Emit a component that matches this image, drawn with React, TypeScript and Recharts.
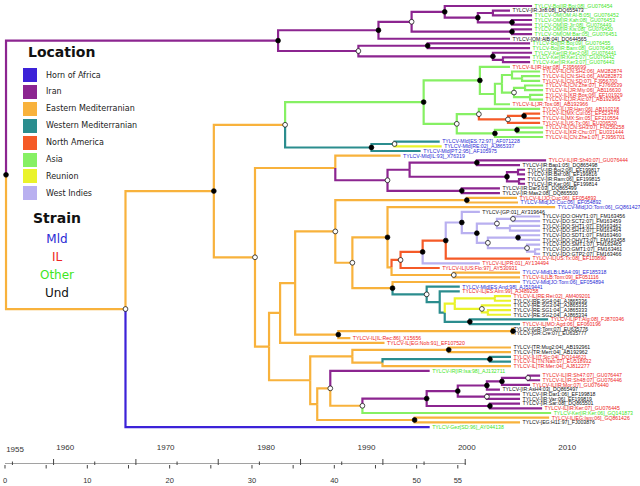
import { ComposedChart, Line, Scatter, XAxis, YAxis } from 'recharts';

// sampling locations (branch colours) and strains (label colours)
const locKeys = ['H', 'I', 'E', 'W', 'N', 'A', 'R', 'X'];
const locNames = ['Horn of Africa', 'Iran', 'Eastern Mediterranian', 'Western Mediterranian', 'North America', 'Asia', 'Reunion', 'West Indies'];
const locColors = ['#3c22d8', '#8c2590', '#f8b23c', '#2b8d8e', '#f55a27', '#86f063', '#eaf32a', '#b9b0f0'];

const strainKeys = ['M', 'L', 'O', 'U'];
const strainNames = ['Mld', 'IL', 'Other', 'Und'];
const strainColors = ['#2a2ad4', '#ee2424', '#3fe61f', '#111111'];

const yearTicks = [1955, 1960, 1970, 1980, 1990, 2000, 2010];
const scaleTicks = [0, 5, 10, 15, 20, 25, 30, 35, 40, 45, 50, 55];
const scaleLabels = [0, 10, 20, 30, 40, 50, 55];
const upTicks = [0.9, 5.9, 10.9, 15.9, 20.9, 25.9, 30.9, 35.9, 40.9, 45.9, 50.9, 55.9];
const scaleEnds = [0, 56];

const treeDomain = [1953.5, 2017.25];
const scaleDomain = [-0.607, 77.13];
const leafDomain = [-1.28, 97.9];

// internal nodes: [id, parent, year, location, support]  b = filled, w = open
const nodes: [string, string, number, string, string][] = [
  ['root', '', 1954.1, 'E', 'b'],
  ['iran', 'root', 1981.2, 'I', 'b'],
  ['i_a', 'iran', 1991.2, 'I', 'b'],
  ['i_b', 'i_a', 1994.5, 'I', 'w'],
  ['i_c', 'i_b', 1997.8, 'I', 'b'],
  ['i_e', 'i_c', 2001.1, 'I', 'b'],
  ['i_f', 'i_e', 2002.6, 'I', ''],
  ['i_g', 'i_e', 2004.5, 'I', 'b'],
  ['i_d', 'i_b', 2004.5, 'I', 'b'],
  ['i_h', 'iran', 1989.2, 'I', 'w'],
  ['i_j', 'i_h', 1996.1, 'I', 'b'],
  ['i_k', 'i_h', 2002.6, 'I', 'b'],
  ['i_m', 'i_k', 2003.6, 'I', ''],
  ['east', 'root', 1966.0, 'E', 'w'],
  ['e1', 'east', 1974.8, 'E', 'b'],
  ['e2', 'e1', 1981.9, 'E', 'w'],
  ['asia', 'e2', 1995.7, 'A', 'b'],
  ['as_u', 'asia', 2001.3, 'A', 'b'],
  ['as_u1', 'as_u', 2002.8, 'A', ''],
  ['as_u2', 'as_u1', 2003.5, 'A', ''],
  ['as_u3', 'as_u2', 2004.5, 'A', ''],
  ['as_u4', 'as_u3', 2005.5, 'A', ''],
  ['as_u5', 'as_u2', 2004.7, 'A', 'w'],
  ['as_u6', 'as_u5', 2005.8, 'A', ''],
  ['as_u7', 'as_u5', 2006.3, 'A', ''],
  ['as_l', 'asia', 1999.0, 'A', 'w'],
  ['as_l1', 'as_l', 2001.2, 'A', 'w'],
  ['na1', 'as_l1', 2004.1, 'N', 'w'],
  ['na2', 'na1', 2005.7, 'N', 'b'],
  ['as_l2', 'as_l', 2002.8, 'A', 'b'],
  ['as_l3', 'as_l2', 2005.0, 'A', 'b'],
  ['wm1', 'e2', 1990.5, 'W', 'b'],
  ['wm2', 'wm1', 1992.8, 'W', 'w'],
  ['e3', 'e1', 1978.9, 'E', 'w'],
  ['p1', 'e3', 1986.9, 'E', ''],
  ['ir2', 'p1', 1992.1, 'I', 'w'],
  ['ir2a', 'ir2', 1994.3, 'I', ''],
  ['ir2b', 'ir2a', 2001.0, 'I', 'b'],
  ['ir2c', 'ir2a', 2004.0, 'I', 'b'],
  ['ir2d', 'ir2c', 2005.1, 'I', ''],
  ['ir2e', 'ir2c', 2005.2, 'I', ''],
  ['ir2f', 'ir2', 1999.5, 'I', 'b'],
  ['e4', 'e3', 1980.3, 'E', ''],
  ['e5', 'e4', 1981.4, 'E', ''],
  ['e6', 'e5', 1982.9, 'E', ''],
  ['e7', 'e6', 1986.9, 'E', 'w'],
  ['jo1', 'e7', 2000.0, 'E', 'b'],
  ['e8', 'e7', 1988.6, 'E', 'w'],
  ['e9', 'e8', 1992.1, 'E', 'b'],
  ['e10', 'e9', 1992.5, 'E', ''],
  ['na3', 'e10', 1993.4, 'N', 'w'],
  ['na4', 'na3', 1995.6, 'N', 'b'],
  ['na5', 'na4', 1997.9, 'N', 'b'],
  ['wi0', 'na5', 1999.5, 'X', 'b'],
  ['wi1', 'wi0', 2001.0, 'X', 'b'],
  ['wi2', 'wi1', 2003.0, 'X', 'w'],
  ['wi3', 'wi2', 2004.6, 'X', 'w'],
  ['wi4', 'wi2', 2004.3, 'X', ''],
  ['wi5', 'wi1', 2002.1, 'X', 'w'],
  ['wi6', 'wi5', 2005.1, 'X', 'b'],
  ['wi7', 'wi5', 2006.0, 'X', 'w'],
  ['wi8', 'wi7', 2006.8, 'X', ''],
  ['lb', 'e10', 1998.7, 'E', 'w'],
  ['e11', 'e8', 1992.6, 'E', 'b'],
  ['wm3', 'e11', 1996.0, 'W', 'w'],
  ['wm4', 'wm3', 1997.3, 'W', ''],
  ['wm5', 'wm4', 1997.8, 'W', ''],
  ['re1', 'wm5', 1998.8, 'R', ''],
  ['re2', 're1', 2002.8, 'R', ''],
  ['re3', 're1', 2001.5, 'R', 'w'],
  ['re4', 're3', 2002.1, 'R', ''],
  ['wm6', 'wm5', 2000.3, 'W', 'b'],
  ['e12', 'e6', 1987.2, 'E', 'b'],
  ['gr', 'e12', 2004.6, 'E', 'b'],
  ['e13', 'e4', 1984.4, 'E', ''],
  ['e14', 'e13', 1988.6, 'E', ''],
  ['tr', 'e14', 1998.2, 'E', 'b'],
  ['e15', 'e14', 1991.6, 'E', ''],
  ['wm7', 'e15', 2002.3, 'W', 'b'],
  ['e16', 'e13', 1985.1, 'E', ''],
  ['e17', 'e16', 1986.4, 'E', 'w'],
  ['e18', 'e17', 1989.6, 'E', 'w'],
  ['ir3', 'e18', 1996.0, 'I', 'b'],
  ['ir3a', 'ir3', 1999.1, 'I', 'b'],
  ['ir3b', 'ir3a', 2002.0, 'I', 'b'],
  ['ir3c', 'ir3b', 2003.5, 'I', 'b'],
  ['ir3d', 'ir3c', 2006.1, 'I', 'w'],
  ['ir3e', 'ir3a', 2002.0, 'I', 'w'],
  ['ir3f', 'ir3', 2002.3, 'I', 'b'],
  ['eg', 'e16', 1994.8, 'E', 'b'],
];

// tips, top to bottom: [label, parent, year, location, strain]
type Tip = [string, string, number, string, string];

const iranTips: Tip[] = [
  ['TYLCV-Boj[IR:Boj:08]_GU076454', 'i_c', 2006.5, 'I', 'O'],
  ['TYLCV-[IR:Jir8:08]_DQ655473', 'i_f', 2004.3, 'I', 'U'],
  ['TYLCV-OM[OM:Al-B:05]_GU076452', 'i_f', 2006.5, 'I', 'O'],
  ['TYLCV-OM[IR:Kah:08]_GU076453', 'i_g', 2006.5, 'I', 'O'],
  ['TYLCV-OM[IR:Jir:08]_GU076449', 'i_g', 2006.5, 'I', 'O'],
  ['TYLCV-OM[IR:Kis:08]_GU076450', 'i_d', 2006.5, 'I', 'O'],
  ['TYLCV-OM[OM:Bar:05]_GU076451', 'i_d', 2006.5, 'I', 'O'],
  ['TYLCV-[OM:AlB:04]_DQ644565', 'i_a', 2004.3, 'I', 'U'],
  ['TYLCV-Boj[IR:Boj:09]_GU076455', 'i_j', 2006.3, 'I', 'O'],
  ['TYLCV-Boj[IR:Bam:08]_GU076456', 'i_j', 2006.3, 'I', 'O'],
  ['TYLCV-Ker[IR:Ker2:06]_GU076441', 'i_k', 2006.5, 'I', 'O'],
  ['TYLCV-Ker[IR:Ker1:07]_GU076442', 'i_m', 2006.3, 'I', 'O'],
  ['TYLCV-Ker[IR:Ker3:07]_GU076443', 'i_m', 2006.3, 'I', 'O'],
];

const asiaTips: Tip[] = [
  ['TYLCV-IL[IR:Har:08]_FJ956699', 'as_u', 2004.3, 'A', 'L'],
  ['TYLCV-IL[CN:SH2:06]_AM282874', 'as_u3', 2007.3, 'A', 'L'],
  ['TYLCV-IL[CN:SH1:06]_AM282873', 'as_u4', 2007.3, 'A', 'L'],
  ['TYLCV-IL[CN:SD:07]_FJ956700', 'as_u4', 2007.3, 'A', 'L'],
  ['TYLCV-IL[CN:Zhe:07]_FJ766539', 'as_u6', 2007.6, 'A', 'L'],
  ['TYLCV-IL[JR:Miy:06]_AB116630', 'as_u6', 2007.6, 'A', 'L'],
  ['TYLCV-IL[KR:Bos:06]_EF101929', 'as_u7', 2007.6, 'A', 'L'],
  ['TYLCV-IL[JR:Aic:07]_AB192965', 'as_u7', 2007.6, 'A', 'L'],
  ['TYLCV-IL[JR:Tos:08]_AB192966', 'as_u1', 2004.3, 'A', 'L'],
  ['TYLCV-IL[JR:Han:06]_AB110218', 'as_l1', 2007.3, 'A', 'L'],
  ['TYLCV-IL[MX:Cul:05]_EF523478', 'na2', 2007.3, 'N', 'L'],
  ['TYLCV-IL[MX:Sin:05]_EF210554', 'na2', 2007.3, 'N', 'L'],
  ['TYLCV-IL[US:Tx:06]_EU206520', 'na1', 2007.3, 'N', 'L'],
  ['TYLCV-IL[CN:SH3:07]_FN256258', 'as_l3', 2007.6, 'A', 'L'],
  ['TYLCV-IL[KR:Chu:07]_EU031444', 'as_l3', 2007.6, 'A', 'L'],
  ['TYLCV-IL[CN:Zhe1:07]_FJ956701', 'as_l2', 2007.6, 'A', 'L'],
];

const mldTips: Tip[] = [
  ['TYLCV-Mld[ES:72:97]_AF071228', 'wm2', 1997.3, 'W', 'M'],
  ['TYLCV-Mld[RE:02]_AJ865337', 'wm2', 1997.5, 'R', 'M'],
  ['TYLCV-Mld[PT:2:95]_AF105975', 'wm1', 1995.4, 'W', 'M'],
  ['TYLCV-Mld[IL:93]_X76319', 'p1', 1993.4, 'E', 'M'],
];

const iran2Tips: Tip[] = [
  ['TYLCV-IL[IR:Sh40:07]_GU076444', 'ir2b', 2007.9, 'I', 'L'],
  ['TYLCV-[IR:Bap1:05]_DQ865498', 'ir2b', 2005.3, 'I', 'U'],
  ['TYLCV-[IR:Boj2:06]_EF199817', 'ir2d', 2005.8, 'I', 'U'],
  ['TYLCV-[IR:Bsr:08]_EF199816', 'ir2d', 2005.8, 'I', 'U'],
  ['TYLCV-[IR:Ram:06]_EF199815', 'ir2e', 2005.8, 'I', 'U'],
  ['TYLCV-[IR:Ker:06]_EF199814', 'ir2e', 2005.8, 'I', 'U'],
  ['TYLCV-[IR:Dar3:03]_DQ865499', 'ir2f', 2003.3, 'I', 'U'],
  ['TYLCV-[IR:Mas2:08]_DQ865500', 'ir2f', 2003.3, 'I', 'U'],
];

const westTips: Tip[] = [
  ['TYLCV-IL[JO:Cuc:06]_EF054893', 'jo1', 2005.0, 'E', 'L'],
  ['TYLCV-Mld[JO:Cuc:06]_EF054892', 'jo1', 2005.1, 'E', 'M'],
  ['TYLCV-Mld[JO:Tom:06]_GQ861427', 'e9', 2008.8, 'E', 'M'],
  ['TYLCV-[GP:01]_AY319646', 'wi0', 2001.3, 'X', 'U'],
  ['TYLCV-[DO:OHVT1:07]_FM163456', 'wi3', 2007.3, 'X', 'U'],
  ['TYLCV-[DO:SCT2:07]_FM163459', 'wi3', 2007.3, 'X', 'U'],
  ['TYLCV-[DO:SHT1:07]_FM163462', 'wi4', 2007.3, 'X', 'U'],
  ['TYLCV-[DO:SHT3:07]_FM163464', 'wi4', 2007.3, 'X', 'U'],
  ['TYLCV-[DO:SDT1:07]_FM163460', 'wi6', 2007.3, 'X', 'U'],
  ['TYLCV-[DO:OHVT3:07]_FM163458', 'wi6', 2007.3, 'X', 'U'],
  ['TYLCV-[DO:SMT1:07]_FM163465', 'wi7', 2007.3, 'X', 'U'],
  ['TYLCV-[DO:GMT1:07]_FM163461', 'wi8', 2007.3, 'X', 'U'],
  ['TYLCV-[DO:GTP2:07]_FM163466', 'wi8', 2007.3, 'X', 'U'],
  ['TYLCV-IL[US:Tx:08]_EF110890', 'na5', 2006.3, 'N', 'L'],
  ['TYLCV-IL[PR:01]_AY134494', 'na4', 2001.3, 'X', 'L'],
  ['TYLCV-IL[US:Flo:97]_AY530931', 'na3', 1997.3, 'N', 'L'],
  ['TYLCV-Mld[LB:LBA4:09]_EF185318', 'lb', 2005.3, 'E', 'M'],
  ['TYLCV-IL[LB:Tom:09]_EF051116', 'lb', 2005.3, 'E', 'L'],
  ['TYLCV-Mld[JO:Tom:06]_EF054894', 'e11', 2005.3, 'E', 'M'],
  ['TYLCV-Mld[ES:And:98]_AJ519441', 'wm3', 1999.3, 'W', 'M'],
  ['TYLCV-IL[ES:Alm:99]_AJ489258', 'wm4', 1999.3, 'W', 'L'],
  ['TYLCV-IL[RE:Rei:02]_AM409201', 're2', 2004.4, 'R', 'L'],
  ['TYLCV-[RE:SG4:04]_AJ865336', 're2', 2004.4, 'R', 'U'],
  ['TYLCV-[RE:SG3:04]_AJ865335', 're3', 2004.4, 'R', 'U'],
  ['TYLCV-[RE:SG1:04]_AJ865333', 're4', 2004.4, 'R', 'U'],
  ['TYLCV-[RE:SG2:04]_AJ865334', 're4', 2004.4, 'R', 'U'],
  ['TYLCV-IL[PT:Alg:08]_FJ870346', 'wm6', 2008.1, 'W', 'L'],
  ['TYLCV-IL[MO:Agd:06]_EF060196', 'wm6', 2005.3, 'W', 'L'],
  ['TYLCV-[GR:Tom:07]_EU635776', 'gr', 2004.4, 'E', 'U'],
  ['TYLCV-[GR:Cre:07]_EU635777', 'gr', 2004.4, 'E', 'U'],
  ['TYLCV-IL[IL:Rec:86]_X15656', 'e12', 1988.4, 'E', 'L'],
  ['TYLCV-IL[EG:Nob:91]_EF107520', 'e5', 1991.8, 'E', 'L'],
];

const southTips: Tip[] = [
  ['TYLCV-[TR:Mug2:04]_AB192961', 'tr', 2004.4, 'E', 'U'],
  ['TYLCV-[TR:Mert:04]_AB192962', 'tr', 2004.4, 'E', 'U'],
  ['TYLCV-IL[IT:Sic:04]_DQ144621', 'wm7', 2004.4, 'W', 'L'],
  ['TYLCV-IL[TN:Nab:07]_EU518932', 'wm7', 2004.4, 'W', 'L'],
  ['TYLCV-IL[TR:Mer:04]_AJ812277', 'e15', 2004.4, 'E', 'L'],
  ['TYLCV-IR[IR:Isa:98]_AJ132711', 'e17', 1996.3, 'I', 'O'],
  ['TYLCV-IL[IR:Sh47:07]_GU076447', 'ir3d', 2007.3, 'I', 'L'],
  ['TYLCV-IL[IR:Sh48:07]_GU076446', 'ir3d', 2007.3, 'I', 'L'],
  ['TYLCV-IL[IR:Mor:07]_GU076440', 'ir3c', 2006.3, 'I', 'L'],
  ['TYLCV-[IR:AsH4:03]_DQ865497', 'ir3b', 2003.3, 'I', 'U'],
  ['TYLCV-[IR:Dar1:06]_EF199818', 'ir3e', 2005.3, 'I', 'U'],
  ['TYLCV-[IR:Var:06]_EF199819', 'ir3e', 2005.3, 'I', 'U'],
  ['TYLCV-[IR:Sar:08]_DQ865501', 'ir3f', 2005.3, 'I', 'U'],
  ['TYLCV-IL[IR:Ker:07]_GU076445', 'ir3f', 2007.5, 'I', 'L'],
  ['TYLCV-Ker[IR:Ker:06]_GQ141873', 'e18', 2008.4, 'A', 'O'],
  ['TYLCV-IL[EG:Ism:06]_GQ861426', 'eg', 2008.2, 'E', 'L'],
  ['TYLCV-[EG:H11:97]_FJ003876', 'eg', 2005.3, 'E', 'U'],
  ['TYLCV-Gez[SD:96]_AY044138', 'east', 1996.3, 'H', 'O'],
];

const tipsAll = [...iranTips, ...asiaTips, ...mldTips, ...iran2Tips, ...westTips, ...southTips];

// layout: tips get consecutive rows, a node sits midway between its outer children
const yMemo: Record<string, number> = {};
const nodeYear: Record<string, number> = {};
nodes.forEach((n) => { nodeYear[n[0]] = n[2]; });

function nodeY(id: string): number {
  if (yMemo[id] !== undefined) return yMemo[id];
  const ys: number[] = [];
  tipsAll.forEach((t, i) => { if (t[1] === id) ys.push(i); });
  nodes.forEach((n) => { if (n[1] === id) ys.push(nodeY(n[0])); });
  yMemo[id] = (Math.min(...ys) + Math.max(...ys)) / 2;
  return yMemo[id];
}

const locColor = (k: string) => locColors[locKeys.indexOf(k)];
const strainColor = (k: string) => strainColors[strainKeys.indexOf(k)];

const branches = [
  ...nodes.filter((n) => n[1]).map((n) => ({ parent: n[1], x: n[2], y: nodeY(n[0]), loc: n[3] })),
  ...tipsAll.map((t, i) => ({ parent: t[1], x: t[2], y: i, loc: t[3] })),
].map((b) => ({
  color: locColor(b.loc),
  pts: [
    { x: nodeYear[b.parent], y: nodeY(b.parent) },
    { x: nodeYear[b.parent], y: b.y },
    { x: b.x, y: b.y },
  ],
}));

const dots = nodes.filter((n) => n[4]).map((n) => ({ x: n[2], y: nodeY(n[0]), s: n[4] }));
const tips = tipsAll.map((t, i) => ({ x: t[2], y: i, label: t[0], strain: t[4] }));
const axisBase = scaleEnds.map((x) => ({ x, y: leafDomain[1] }));

const axisFont = '"Liberation Sans Narrow", "Liberation Sans", sans-serif';

const renderDot = (p: any) => (
  <circle cx={p.cx} cy={p.cy} r={2.4} fill={p.payload.s === 'b' ? '#000' : '#fff'} stroke="#000" strokeWidth={0.7} />
);

const renderTip = (p: any) => (
  <text x={p.cx + 2.5} y={p.cy} dy="0.35em" fontSize={5.2} fontFamily="'Liberation Sans', Arial, sans-serif" fill={strainColor(p.payload.strain)}>
    {p.payload.label}
  </text>
);

const YearTick = (p: any) => (
  <text x={p.x} y={p.y - (p.index === 0 ? 12 : 14)} textAnchor="middle" fontSize={8} fontFamily={axisFont} fill="#333">
    {p.payload.value}
  </text>
);

// down ticks every 5 units (labelled), up ticks offset by 0.9 (tall every other one)
const ScaleTick = (p: any) => {
  const v = p.payload.value;
  const up = upTicks.indexOf(v);
  if (up >= 0) {
    return <line x1={p.x} x2={p.x} y1={p.y} y2={p.y - (up % 2 ? 6 : 3.5)} stroke="#444" strokeWidth={1} />;
  }
  return (
    <g>
      <line x1={p.x} x2={p.x} y1={p.y} y2={p.y + 3.5} stroke="#444" strokeWidth={1} />
      {scaleLabels.includes(v) && (
        <text x={p.x} y={p.y + 18} textAnchor="middle" fontSize={7.5} fontFamily={axisFont} fill="#333">
          {v}
        </text>
      )}
    </g>
  );
};

export default function App() {
  return (
    <div style={{ position: 'absolute', left: 0, top: 0, width: 640, height: 486, overflow: 'hidden', background: '#fff', fontFamily: '"DejaVu Sans", sans-serif' }}>
      <ComposedChart width={640} height={486} margin={{ top: 0, right: 0, bottom: 0, left: 0 }}>
        <XAxis xAxisId="t" dataKey="x" type="number" domain={treeDomain} allowDataOverflow height={1}
          ticks={yearTicks} interval={0} tick={YearTick} tickLine={false} axisLine={false} tickSize={0} tickMargin={0} />
        <XAxis xAxisId="u" dataKey="x" type="number" domain={scaleDomain} allowDataOverflow height={21}
          ticks={[...scaleTicks, ...upTicks]} interval={0} tick={ScaleTick} tickLine={false} axisLine={false} tickSize={0} tickMargin={0} />
        <YAxis yAxisId="l" dataKey="y" type="number" domain={leafDomain} allowDataOverflow reversed hide />
        <Line xAxisId="u" yAxisId="l" data={axisBase} dataKey="y" stroke="#444" strokeWidth={1} dot={false} activeDot={false} isAnimationActive={false} />
        {branches.map((b, i) => (
          <Line key={i} xAxisId="t" yAxisId="l" data={b.pts} dataKey="y" type="linear" stroke={b.color}
            strokeWidth={2.2} dot={false} activeDot={false} isAnimationActive={false} />
        ))}
        <Scatter xAxisId="t" yAxisId="l" data={dots} shape={renderDot} isAnimationActive={false} />
        <Scatter xAxisId="t" yAxisId="l" data={tips} shape={renderTip} isAnimationActive={false} />
      </ComposedChart>

      <div style={{ position: 'absolute', left: 28, top: 45, fontSize: 14, lineHeight: '14px', fontWeight: 'bold', color: '#111' }}>Location</div>
      {locNames.map((name, i) => (
        <div key={name} style={{ position: 'absolute', left: 23, top: 68 + i * 16.9, height: 14, display: 'flex', alignItems: 'center' }}>
          <div style={{ width: 14, height: 14, background: locColors[i] }} />
          <span style={{ marginLeft: 9, fontSize: 8, color: '#222' }}>{name}</span>
        </div>
      ))}
      <div style={{ position: 'absolute', left: 33, top: 211, fontSize: 14, lineHeight: '14px', fontWeight: 'bold', color: '#111' }}>Strain</div>
      {strainNames.map((name, i) => (
        <div key={name} style={{ position: 'absolute', left: 17, width: 80, textAlign: 'center', top: 233 + i * 18, fontSize: 12, lineHeight: '12px', color: strainColors[i] }}>
          {name}
        </div>
      ))}
    </div>
  );
}
